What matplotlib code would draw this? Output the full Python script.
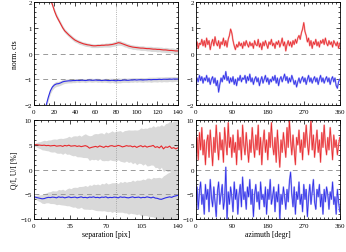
import numpy as np
import matplotlib
matplotlib.use('Agg')
import matplotlib.pyplot as plt
from matplotlib.ticker import MultipleLocator

plt.rcParams['font.family'] = ['Liberation Serif', 'DejaVu Serif']

# separation grid (pix), step 2
sep = np.arange(0, 141, 2)

# top-left: normalised counts vs separation
norm_red = [9.0, 7.0, 5.5, 4.5, 3.8, 3.2, 2.7, 2.4, 2.1, 1.9,
            1.65, 1.45, 1.3, 1.15, 1.0, 0.88, 0.8, 0.72, 0.65, 0.58,
            0.52, 0.48, 0.44, 0.41, 0.38, 0.36, 0.34, 0.33, 0.31, 0.3,
            0.3, 0.31, 0.31, 0.32, 0.32, 0.33, 0.33, 0.34, 0.35, 0.37,
            0.39, 0.42, 0.41, 0.38, 0.35, 0.32, 0.29, 0.27, 0.25, 0.24,
            0.23, 0.22, 0.21, 0.21, 0.2, 0.19, 0.19, 0.18, 0.17, 0.17,
            0.16, 0.16, 0.15, 0.14, 0.14, 0.13, 0.12, 0.12, 0.11, 0.1,
            0.1]
norm_blue = [-6.0, -5.0, -4.0, -3.3, -2.8, -2.35, -2.0, -1.7, -1.45, -1.3,
             -1.22, -1.18, -1.17, -1.14, -1.1, -1.08, -1.07, -1.06, -1.06, -1.05,
             -1.05, -1.04, -1.05, -1.04, -1.04, -1.05, -1.04, -1.03, -1.04, -1.04,
             -1.03, -1.04, -1.04, -1.05, -1.04, -1.04, -1.05, -1.05, -1.04, -1.05,
             -1.06, -1.04, -1.05, -1.04, -1.03, -1.04, -1.04, -1.03, -1.03, -1.02,
             -1.03, -1.02, -1.02, -1.03, -1.02, -1.02, -1.01, -1.02, -1.01, -1.01,
             -1.01, -1.0, -1.01, -1.0, -1.0, -1.0, -0.99, -1.0, -0.99, -0.99,
             -0.99]
norm_err = [0.15, 0.15, 0.14, 0.14, 0.13, 0.13, 0.12, 0.12, 0.11, 0.11,
            0.1, 0.1, 0.09, 0.09, 0.09, 0.08, 0.08, 0.08, 0.08, 0.08,
            0.08, 0.07, 0.08, 0.07, 0.07, 0.08, 0.07, 0.07, 0.08, 0.07,
            0.07, 0.08, 0.07, 0.08, 0.07, 0.08, 0.08, 0.09, 0.08, 0.09,
            0.09, 0.1, 0.09, 0.08, 0.09, 0.08, 0.09, 0.08, 0.09, 0.08,
            0.09, 0.08, 0.09, 0.09, 0.08, 0.09, 0.09, 0.1, 0.09, 0.09,
            0.1, 0.09, 0.1, 0.09, 0.1, 0.1, 0.09, 0.1, 0.1, 0.09,
            0.1]

# bottom-left: Q/I, U/I [%] vs separation
pol_red = [5.0, 5.05, 5.0, 4.95, 4.9, 4.95, 4.85, 4.9, 4.8, 4.85,
           4.9, 4.75, 4.8, 4.85, 4.7, 4.9, 4.8, 4.95, 4.75, 4.8,
           4.85, 4.7, 4.8, 4.65, 4.75, 4.85, 4.7, 4.35, 4.5, 4.6,
           4.7, 4.55, 4.8, 4.65, 4.5, 4.75, 4.6, 4.8, 4.85, 4.7,
           4.75, 4.9, 4.8, 4.6, 4.7, 4.85, 4.75, 4.8, 4.6, 4.75,
           4.5, 4.7, 4.85, 4.6, 4.8, 4.55, 4.7, 4.75, 4.9, 4.5,
           4.65, 4.4, 4.8, 4.2, 4.6, 4.5, 4.75, 4.3, 4.45, 4.2,
           4.4]
pol_blue = [-5.5, -5.6, -5.7, -5.8, -5.9, -5.85, -5.7, -5.6, -5.65, -5.55,
            -5.6, -5.7, -5.5, -5.6, -5.55, -5.7, -5.6, -5.5, -5.65, -5.6,
            -5.55, -5.7, -5.6, -5.5, -5.65, -5.6, -5.7, -5.55, -5.6, -5.5,
            -5.65, -5.6, -5.7, -5.55, -5.6, -5.5, -5.7, -5.6, -5.65, -5.55,
            -5.6, -5.7, -5.5, -5.6, -5.55, -5.65, -5.7, -5.6, -5.5, -5.65,
            -5.6, -5.55, -5.7, -5.6, -5.65, -5.5, -5.6, -5.7, -5.55, -5.75,
            -5.8, -5.95, -6.0, -5.85, -5.7, -5.6, -5.5, -5.6, -5.4, -5.3,
            -5.2]
pol_err = [0.2, 0.4, 0.6, 0.7, 0.9, 1.0, 1.0, 1.1, 1.2, 1.3,
           1.3, 1.4, 1.5, 1.5, 1.6, 1.5, 1.7, 1.8, 1.8, 2.0,
           2.0, 2.1, 2.2, 2.1, 2.3, 2.4, 2.3, 2.5, 2.4, 2.6,
           2.6, 2.7, 2.6, 2.8, 2.7, 2.9, 2.8, 2.8, 3.0, 2.9,
           3.0, 2.9, 3.1, 3.0, 3.2, 3.1, 3.3, 3.2, 3.4, 3.3,
           3.5, 3.4, 3.6, 3.7, 3.6, 3.8, 3.9, 3.8, 4.0, 4.1,
           4.2, 4.4, 4.3, 4.6, 4.7, 4.9, 5.0, 5.2, 5.4, 5.6,
           5.9]

# top-right: normalised counts vs azimuth (3 degr steps)
az_red = [0.3, 0.45, 0.2, 0.4, 0.35, 0.55, 0.3, 0.5, 0.25, 0.6,
          0.35, 0.5, 0.15, 0.4, 0.55, 0.3, 0.65, 0.4, 0.3, 0.5,
          0.2, 0.45, 0.35, 0.6, 0.3, 0.5, 0.25, 0.55, 0.7, 0.95,
          0.8, 0.5, 0.3, 0.15, 0.35, 0.25, 0.45, 0.3, 0.4, 0.2,
          0.45, 0.3, 0.5, 0.35, 0.25, 0.45, 0.3, 0.4, 0.2, 0.5,
          0.35, 0.3, 0.55, 0.25, 0.4, 0.15, 0.45, 0.3, 0.5, 0.35,
          0.2, 0.45, 0.35, 0.55, 0.3, 0.4, 0.2, 0.45, 0.35, 0.5,
          0.25, 0.4, 0.6, 0.3, 0.45, 0.1, 0.35, 0.5, 0.3, 0.45,
          0.25, 0.5, 0.35, 0.55, 0.4, 0.6, 0.7, 0.55, 0.8, 0.95,
          1.2, 0.85, 0.7, 0.45, 0.6, 0.3, 0.5, 0.2, 0.45, 0.35,
          0.55, 0.3, 0.45, 0.25, 0.5, 0.4, 0.55, 0.35, 0.6, 0.4,
          0.3, 0.5, 0.35, 0.45, 0.25, 0.5, 0.4, 0.3, 0.45, 0.2,
          0.4]
az_blue = [-1.3, -0.95, -1.1, -0.85, -1.05, -0.9, -1.15, -0.95, -1.05, -0.85,
           -1.1, -0.95, -1.2, -1.0, -0.9, -1.15, -0.95, -1.25, -1.05, -1.5,
           -1.2, -0.95, -1.1, -0.85, -1.0, -0.7, -1.05, -0.9, -1.15, -0.95,
           -1.1, -0.9, -1.2, -1.0, -1.25, -0.95, -1.05, -0.85, -1.1, -0.95,
           -1.0, -0.85, -1.15, -0.9, -1.05, -0.8, -1.1, -0.95, -1.2, -1.0,
           -0.9, -1.1, -0.95, -1.25, -1.05, -0.9, -1.15, -1.0, -0.85, -1.1,
           -0.95, -1.2, -1.0, -1.1, -0.9, -1.05, -0.85, -1.15, -0.95, -1.25,
           -1.0, -0.9, -1.1, -0.95, -0.8, -1.05, -0.9, -1.15, -0.95, -1.1,
           -0.85, -1.0, -1.2, -1.05, -1.3, -1.1, -0.95, -1.15, -1.0, -0.9,
           -1.1, -0.95, -1.2, -1.0, -0.85, -1.1, -0.95, -1.15, -1.0, -0.9,
           -1.1, -0.95, -1.2, -1.0, -0.85, -1.1, -0.95, -1.15, -1.0, -0.9,
           -1.1, -0.95, -1.2, -1.0, -0.9, -1.1, -0.95, -1.25, -1.35, -1.1,
           -1.0]

# bottom-right: Q/I, U/I [%] vs azimuth
azp_red = [3.5, 6.5, 2.0, 7.5, 4.0, 8.5, 3.0, 6.0, 1.0, 5.5,
           7.0, 2.5, 8.0, 4.5, 0.8, 6.5, 3.5, 9.0, 5.0, 2.0,
           7.5, 4.0, 6.0, 1.5, 8.5, 5.5, 3.0, 9.5, 4.5, 6.5,
           2.5, 7.0, 3.5, 5.5, 1.0, 8.0, 4.0, 6.5, 2.0, 9.0,
           5.0, 3.0, 7.5, 4.5, 1.5, 6.0, 3.5, 8.5, 5.0, 2.5,
           7.0, 4.0, 9.0, 3.0, 6.5, 1.0, 5.5, 8.0, 3.5, 6.0,
           2.0, 7.5, 4.5, 9.5, 5.0, 3.0, 6.5, 1.5, 8.0, 4.0,
           0.5, 6.0, 3.5, 7.5, 5.0, 2.5, 8.5, 4.5, 10.0, 6.0,
           3.0, 7.0, 4.0, 1.0, 6.5, 5.0, 8.0, 3.5, 6.0, 2.0,
           7.5, 4.5, 9.0, 5.5, 3.0, 6.5, 10.0, 4.0, 7.0, 2.5,
           5.5, 8.0, 3.5, 6.0, 1.5, 7.5, 4.5, 9.0, 5.0, 3.0,
           6.5, 4.0, 8.5, 5.5, 2.0, 7.0, 4.5, 6.0, 3.0, 5.0,
           6.5]
azp_blue = [-6.5, -3.5, -8.0, -4.5, -2.5, -7.0, -5.0, -9.0, -3.0, -6.0,
            -4.0, -8.5, -2.0, -5.5, -7.5, -3.5, -6.5, -9.5, -4.5, -2.5,
            -7.0, -5.0, -3.0, -8.0, -6.0, 0.5, -10.0, -4.5, -7.0, -3.5,
            -5.5, -8.5, -2.5, -6.0, -4.0, -9.0, -5.0, -3.0, -7.5, -1.5,
            -6.0, -4.5, -8.0, -3.5, -5.5, -2.0, -7.0, -4.0, -9.5, -5.0,
            -3.0, -6.5, -4.5, -8.0, -2.5, -6.0, -5.0, -7.5, -3.5, -9.0,
            -4.0, -6.0, -2.0, -7.0, -5.5, -3.5, -8.5, -4.5, -6.5, -3.0,
            -10.0, -5.0, -7.0, -3.5, -5.5, -8.0, -4.0, -6.5, -2.5, -0.5,
            -5.0, -7.5, -3.5, -9.0, -4.5, -6.0, -2.5, -7.0, -5.0, -8.5,
            -3.0, -6.0, -4.0, -9.5, -5.5, -3.0, -7.0, -4.5, -2.0, -6.5,
            -8.0, -4.0, -5.5, -3.0, -7.5, -5.0, -9.0, -4.0, -6.5, -3.5,
            -5.0, -8.0, -4.5, -6.0, -2.5, -7.0, -5.5, -9.0, -4.0, -6.5,
            -8.5]

RED = '#e8282c'
BLUE = '#2c2ce8'
GREY = '#d9d9d9'
DASH = '#9a9a9a'
FS = 5


def style(ax, xmaj, xmin, ymaj, ymin):
    ax.xaxis.set_major_locator(MultipleLocator(xmaj))
    ax.xaxis.set_minor_locator(MultipleLocator(xmin))
    ax.yaxis.set_major_locator(MultipleLocator(ymaj))
    ax.yaxis.set_minor_locator(MultipleLocator(ymin))
    ax.tick_params(which='both', direction='in', top=True, right=True,
                   labelsize=FS, width=0.5)
    ax.tick_params(which='major', length=3)
    ax.tick_params(which='minor', length=1.5)
    ax.tick_params(axis='x', pad=3)
    ax.tick_params(axis='y', pad=1.5)
    for s in ax.spines.values():
        s.set_linewidth(0.6)
    ax.yaxis.set_major_formatter(plt.FuncFormatter(lambda v, p: f'{v:g}'.replace('-', '\u2212')))


fig = plt.figure(figsize=(3.46, 2.53), dpi=100)
ax1 = fig.add_axes([0.098, 0.581, 0.416, 0.407])
ax2 = fig.add_axes([0.566, 0.581, 0.416, 0.407])
ax3 = fig.add_axes([0.098, 0.130, 0.416, 0.391])
ax4 = fig.add_axes([0.566, 0.130, 0.416, 0.391])

# top-left
nr, nb, ne = np.array(norm_red), np.array(norm_blue), np.array(norm_err)
ax1.fill_between(sep, nr - ne, nr + ne, color=GREY, lw=0)
ax1.fill_between(sep, nb - ne, nb + ne, color=GREY, lw=0)
ax1.axhline(0, color=DASH, ls=(0, (5, 4)), lw=0.7)
ax1.axhline(-1, color=DASH, ls=(0, (5, 4)), lw=0.7)
ax1.axvline(80, color=DASH, ls=':', lw=0.6)
ax1.plot(sep, nr, color=RED, lw=0.8)
ax1.plot(sep, nb, color=BLUE, lw=0.8)
ax1.set_xlim(0, 140)
ax1.set_ylim(-2, 2)
style(ax1, 20, 5, 1, 0.2)
ax1.set_ylabel('norm. cts', fontsize=FS + 0.5, labelpad=4)

# bottom-left
pr, pb, pe = np.array(pol_red), np.array(pol_blue), np.array(pol_err)
ax3.fill_between(sep, pr - pe, pr + pe, color=GREY, lw=0)
ax3.fill_between(sep, pb - pe, pb + pe, color=GREY, lw=0)
ax3.axhline(0, color=DASH, ls=(0, (5, 4)), lw=0.7)
ax3.axhline(-5, color=DASH, ls=(0, (5, 4)), lw=0.7)
ax3.axvline(80, color=DASH, ls=':', lw=0.6)
ax3.plot(sep, pr, color=RED, lw=0.8)
ax3.plot(sep, pb, color=BLUE, lw=0.8)
ax3.set_xlim(0, 140)
ax3.set_ylim(-10, 10)
style(ax3, 35, 7, 5, 1)
ax3.set_ylabel('Q/I, U/I [%]', fontsize=FS + 0.5, labelpad=2)
ax3.set_xlabel('separation [pix]', fontsize=FS + 0.5, labelpad=1)

# top-right
az = np.linspace(0, 360, len(az_red))
ax2.axhline(0, color=DASH, ls=(0, (5, 4)), lw=0.7)
ax2.plot(az, az_red, color='#f4a0a2', lw=1.2)
ax2.plot(az, az_red, color=RED, lw=0.5)
ax2.plot(az, az_blue, color='#a0a0f4', lw=1.2)
ax2.plot(az, az_blue, color=BLUE, lw=0.5)
ax2.set_xlim(0, 360)
ax2.set_ylim(-2, 2)
style(ax2, 90, 10, 1, 0.2)

# bottom-right
ax4.axhline(0, color=DASH, ls=(0, (5, 4)), lw=0.7)
ax4.axhline(-5, color=DASH, ls=(0, (5, 4)), lw=0.7)
ax4.plot(az, azp_red, color='#f4a0a2', lw=1.2)
ax4.plot(az, azp_red, color=RED, lw=0.5)
ax4.plot(az, azp_blue, color='#a0a0f4', lw=1.2)
ax4.plot(az, azp_blue, color=BLUE, lw=0.5)
ax4.set_xlim(0, 360)
ax4.set_ylim(-10, 10)
style(ax4, 90, 10, 5, 1)
ax4.set_xlabel('azimuth [degr]', fontsize=FS + 0.5, labelpad=1)

fig.savefig('out.png', dpi=100)
